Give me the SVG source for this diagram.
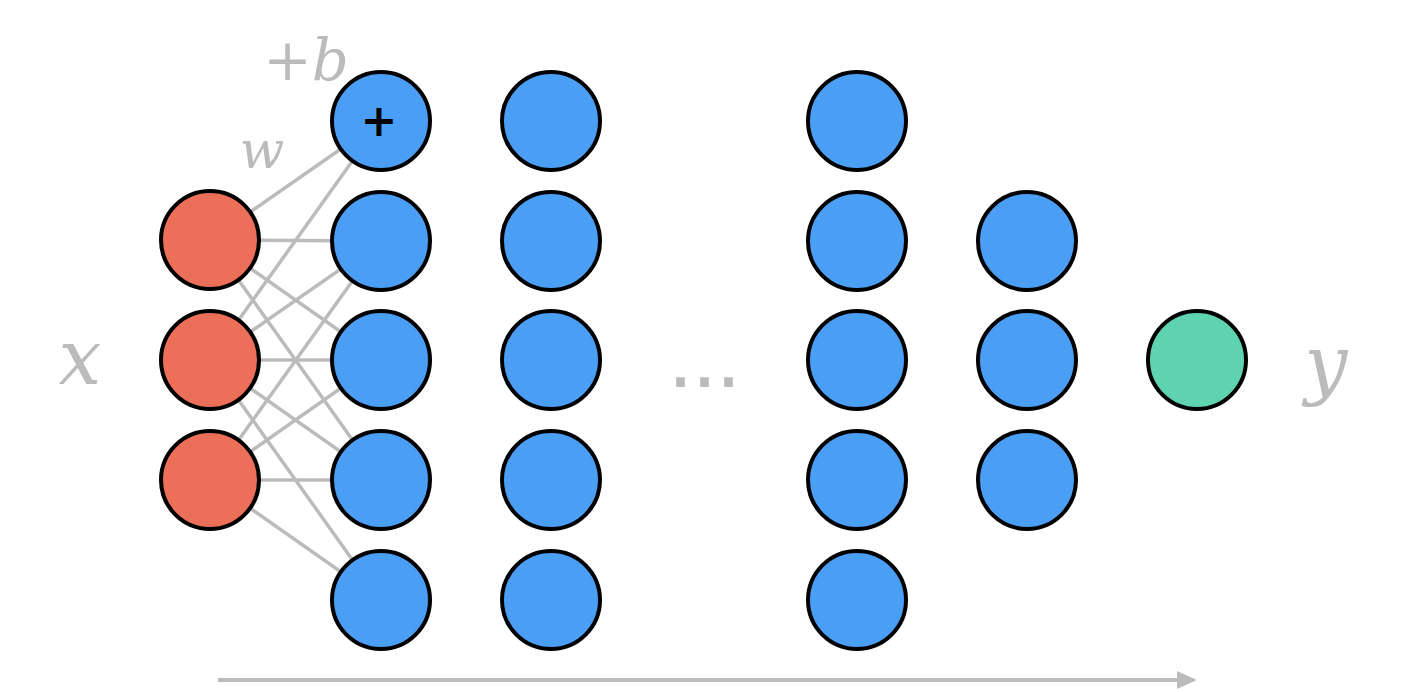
<svg xmlns="http://www.w3.org/2000/svg" width="1406" height="692" viewBox="0 0 1406 692">
<style>
.e{stroke:#bbbbbb;stroke-width:3.5;fill:none}
.n{stroke:#000;stroke-width:4}
.in{fill:#ec6f5a}
.h{fill:#4a9ff5}
.out{fill:#5fd3b0}
.lbl{font-family:"DejaVu Serif","Liberation Serif",serif;font-style:italic;fill:#bbbbbb}
</style>
<defs>
<marker id="ah" markerWidth="20" markerHeight="20" refX="2" refY="10" orient="auto" markerUnits="userSpaceOnUse" viewBox="0 0 20 20">
<path d="M0,1 L20,10 L0,19 z" fill="#bbbbbb"/>
</marker>
</defs>
<rect width="1406" height="692" fill="#fff"/>
<g id="connectors">
<line class="e" x1="210" y1="240" x2="381" y2="121"/>
<line class="e" x1="210" y1="240" x2="381" y2="241"/>
<line class="e" x1="210" y1="240" x2="381" y2="360"/>
<line class="e" x1="210" y1="240" x2="381" y2="480"/>
<line class="e" x1="210" y1="360" x2="381" y2="121"/>
<line class="e" x1="210" y1="360" x2="381" y2="241"/>
<line class="e" x1="210" y1="360" x2="381" y2="360"/>
<line class="e" x1="210" y1="360" x2="381" y2="480"/>
<line class="e" x1="210" y1="360" x2="381" y2="600"/>
<line class="e" x1="210" y1="480" x2="381" y2="241"/>
<line class="e" x1="210" y1="480" x2="381" y2="360"/>
<line class="e" x1="210" y1="480" x2="381" y2="480"/>
<line class="e" x1="210" y1="480" x2="381" y2="600"/>
<line x1="218" y1="680" x2="1179" y2="680" stroke="#bbbbbb" stroke-width="4" marker-end="url(#ah)"/>
</g>
<g id="inputs">
<circle id="x1" class="n in" cx="210" cy="240" r="49"/>
<circle id="x2" class="n in" cx="210" cy="360" r="49"/>
<circle id="x3" class="n in" cx="210" cy="480" r="49"/>
</g>
<g id="layer1">
<g id="h1_1"><circle class="n h" cx="381" cy="121" r="49"/><text x="379" y="136" font-family="DejaVu Serif,serif" font-style="italic" font-weight="bold" font-size="44" text-anchor="middle" fill="#000">+</text></g>
<circle id="h1_2" class="n h" cx="381" cy="241" r="49"/>
<circle id="h1_3" class="n h" cx="381" cy="360" r="49"/>
<circle id="h1_4" class="n h" cx="381" cy="480" r="49"/>
<circle id="h1_5" class="n h" cx="381" cy="600" r="49"/>
</g>
<g id="layer2">
<circle id="h2_1" class="n h" cx="551" cy="121" r="49"/>
<circle id="h2_2" class="n h" cx="551" cy="241" r="49"/>
<circle id="h2_3" class="n h" cx="551" cy="360" r="49"/>
<circle id="h2_4" class="n h" cx="551" cy="480" r="49"/>
<circle id="h2_5" class="n h" cx="551" cy="600" r="49"/>
</g>
<g id="layer3">
<circle id="h3_1" class="n h" cx="857" cy="121" r="49"/>
<circle id="h3_2" class="n h" cx="857" cy="241" r="49"/>
<circle id="h3_3" class="n h" cx="857" cy="360" r="49"/>
<circle id="h3_4" class="n h" cx="857" cy="480" r="49"/>
<circle id="h3_5" class="n h" cx="857" cy="600" r="49"/>
</g>
<g id="layer4">
<circle id="h4_1" class="n h" cx="1027" cy="241" r="49"/>
<circle id="h4_2" class="n h" cx="1027" cy="360" r="49"/>
<circle id="h4_3" class="n h" cx="1027" cy="480" r="49"/>
</g>
<g id="output">
<circle id="yhat" class="n out" cx="1197" cy="360" r="49"/>
</g>
<g id="labels">
<text class="lbl" x="80" y="384" font-size="76" text-anchor="middle">x</text>
<text class="lbl" x="1326" y="390" font-size="76" text-anchor="middle">y</text>
<text class="lbl" x="262" y="168" font-size="52" text-anchor="middle">w</text>
<text class="lbl" x="306" y="80" font-size="58" text-anchor="middle">+b</text>
<text x="668" y="387" font-family="Liberation Sans,sans-serif" font-size="90" letter-spacing="-1" fill="#bbbbbb">...</text>
</g>
</svg>
